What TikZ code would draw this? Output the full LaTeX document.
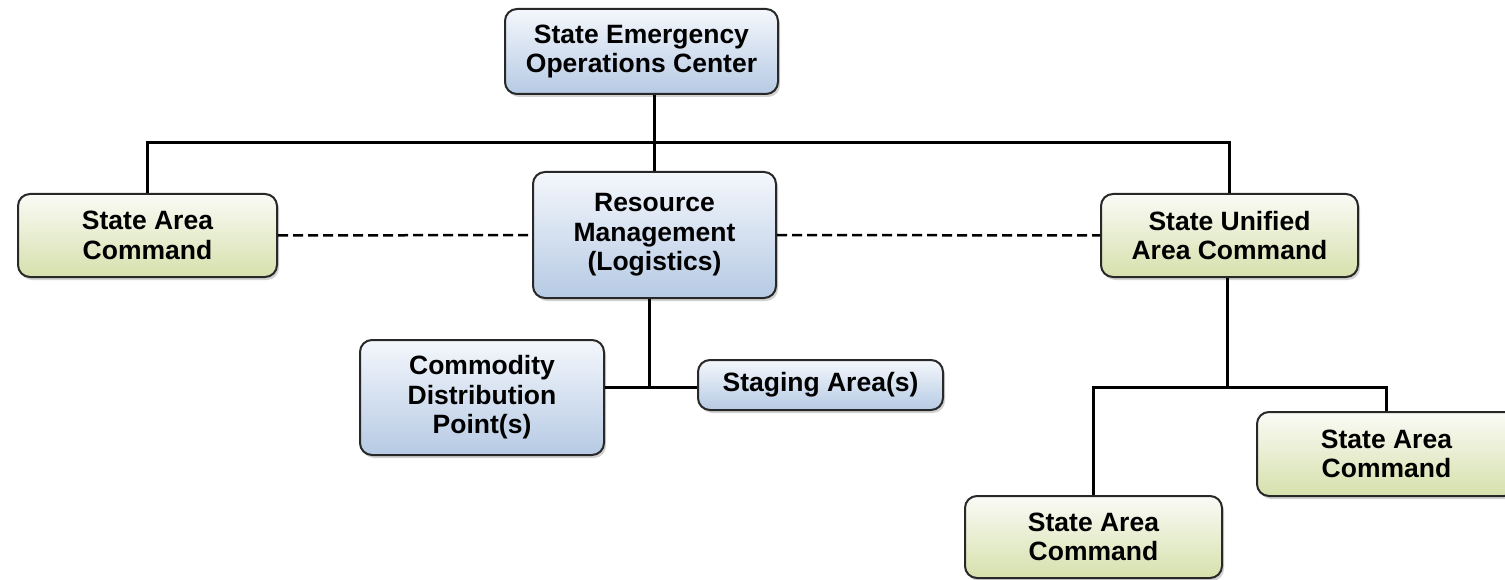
\documentclass[tikz,border=0pt]{standalone}
\usepackage{fontspec}
\setmainfont{Liberation Sans}
\usetikzlibrary{shadows,calc}
\definecolor{bluetop}{RGB}{244,247,252}
\definecolor{bluebot}{RGB}{182,202,228}
\definecolor{greentop}{RGB}{250,251,246}
\definecolor{greenbot}{RGB}{214,224,172}
\definecolor{edge}{RGB}{40,40,40}
\tikzset{
  box/.style={draw=edge, line width=2pt, rounded corners=12pt, align=center,
    inner sep=0pt, font=\fontsize{26.5}{29.5}\selectfont\bfseries,
    drop shadow={shadow xshift=2pt, shadow yshift=-3pt, opacity=0.35, fill=gray}},
  bluebox/.style={box, top color=bluetop, bottom color=bluebot},
  greenbox/.style={box, top color=greentop, bottom color=greenbot},
  conn/.style={draw=black, line width=3pt},
  dconn/.style={draw=black, line width=2.5pt, dash pattern=on 10pt off 5pt}
}
\begin{document}
\begin{tikzpicture}[x=1pt,y=-1pt]
\useasboundingbox[fill=white] (0,0) rectangle (1505,580);
\node[bluebox, minimum width=273pt, minimum height=85pt] (seoc) at (641.5,51.5) {State Emergency\\Operations Center};
\node[bluebox, minimum width=243pt, minimum height=126pt] (rm) at (654.5,235) {Resource\\Management\\(Logistics)};
\node[greenbox, minimum width=259pt, minimum height=83pt] (sac1) at (147.5,235.5) {State Area\\Command};
\node[greenbox, minimum width=257pt, minimum height=83pt] (suac) at (1229.5,235.5) {State Unified\\Area Command};
\node[bluebox, minimum width=244pt, minimum height=115pt] (cdp) at (482,397.5) {Commodity\\Distribution\\Point(s)};
\node[bluebox, minimum width=245pt, minimum height=50pt] (stg) at (820.5,385) {Staging Area(s)};
\node[greenbox, minimum width=257pt, minimum height=82pt] (sac2) at (1093.5,537) {State Area\\Command};
\node[greenbox, minimum width=259pt, minimum height=84pt] (sac3) at (1386.5,454) {State Area\\Command};
\coordinate (bus) at (0,143);
\coordinate (j) at (649,387);
\coordinate (k) at (1227,387);
\draw[conn] (rm.north) -- (rm.north |- seoc.south);
\draw[conn] (sac1.north) |- (bus -| rm.north) -| (suac.north);
\draw[dconn] (sac1.east) -- (rm.west);
\draw[dconn] (rm.east) -- (suac.west);
\draw[conn] (rm.south -| j) -- (j);
\draw[conn] (cdp.east |- j) -- (stg.west |- j);
\draw[conn] (suac.south -| k) -- (k);
\draw[conn] (sac2.north) |- (k) -| (sac3.north);
\end{tikzpicture}
\end{document}
